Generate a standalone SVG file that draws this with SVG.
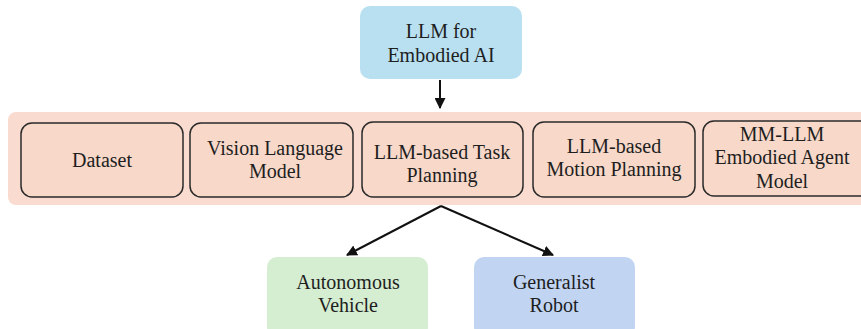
<svg xmlns="http://www.w3.org/2000/svg" width="861" height="329" viewBox="0 0 861 329">
<defs>
<style>
text{font-family:"Liberation Serif","DejaVu Serif",serif;font-size:20px;fill:#1e1e1e;text-anchor:middle}
.cat{fill:#f7d8c9;stroke:#2a2a2a;stroke-width:1.5}
.conn{stroke:#111;stroke-width:2;fill:none;marker-end:url(#ah)}
</style>
<marker id="ah" viewBox="0 0 10 10" refX="9" refY="5" markerWidth="5.5" markerHeight="5.5" orient="auto-start-reverse">
<path d="M0,0 L10,5 L0,10 z" fill="#111"/>
</marker>
</defs>
<rect width="861" height="329" fill="#fff"/>
<g id="root">
<rect x="360" y="6" width="162" height="73" rx="10" fill="#b8e0f0"/>
<text x="441" y="38">LLM for</text>
<text x="441" y="62">Embodied AI</text>
</g>
<g id="band">
<rect x="8" y="112" width="870" height="93" rx="8" fill="#f9dccf"/>
</g>
<g id="dataset">
<rect class="cat" x="21" y="123" width="162" height="74" rx="11"/>
<text x="102" y="167">Dataset</text>
</g>
<g id="vlm">
<rect class="cat" x="190" y="123" width="163" height="74" rx="11"/>
<text x="275" y="155">Vision Language</text>
<text x="275" y="178">Model</text>
</g>
<g id="task">
<rect class="cat" x="362" y="122" width="161" height="75" rx="11"/>
<text x="442" y="159">LLM-based Task</text>
<text x="442" y="182">Planning</text>
</g>
<g id="motion">
<rect class="cat" x="533" y="122" width="162" height="75" rx="11"/>
<text x="614" y="153">LLM-based</text>
<text x="614" y="176">Motion Planning</text>
</g>
<g id="mmllm">
<rect class="cat" x="703" y="121" width="170" height="75" rx="11"/>
<text x="782" y="141">MM-LLM</text>
<text x="782" y="164">Embodied Agent</text>
<text x="782" y="188">Model</text>
</g>
<g id="av">
<rect x="267" y="257" width="161" height="80" rx="10" fill="#d5edd0"/>
<text x="348" y="289">Autonomous</text>
<text x="348" y="312">Vehicle</text>
</g>
<g id="robot">
<rect x="474" y="257" width="161" height="80" rx="10" fill="#c1d5f3"/>
<text x="554" y="289">Generalist</text>
<text x="554" y="312">Robot</text>
</g>
<g id="connectors">
<line class="conn" x1="440" y1="80" x2="440" y2="108"/>
<line class="conn" x1="441" y1="206" x2="347" y2="255"/>
<line class="conn" x1="441" y1="206" x2="553" y2="255"/>
</g>
</svg>
